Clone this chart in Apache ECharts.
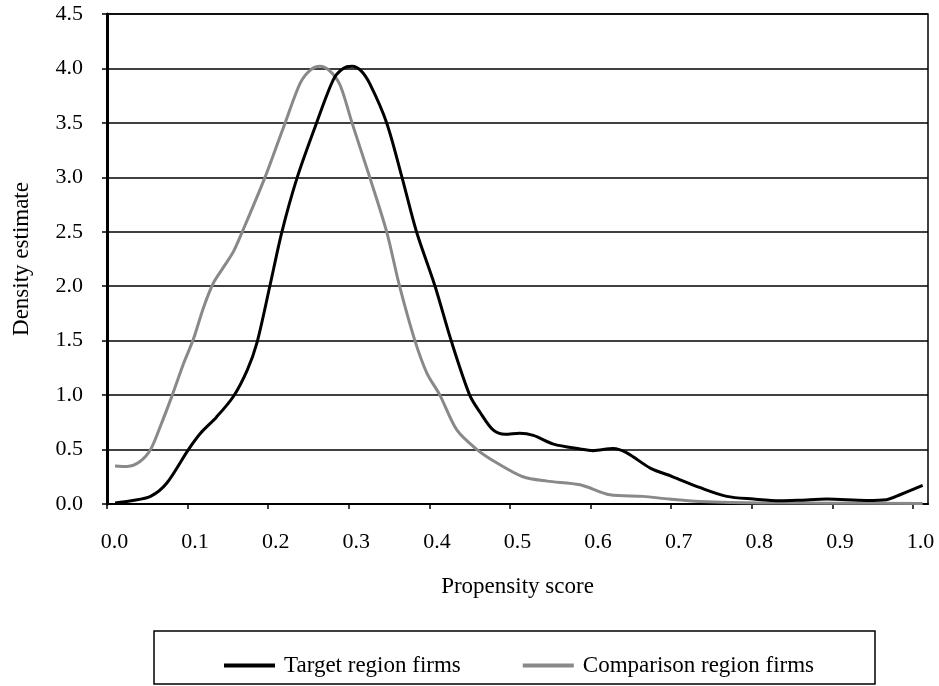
<!DOCTYPE html>
<html>
<head>
<meta charset="utf-8">
<script src="https://cdn.jsdelivr.net/npm/echarts@6/dist/echarts.min.js"></script>
<style>
  html, body { margin: 0; padding: 0; background: #fff; }
  #chart { width: 939px; height: 686px; }
</style>
</head>
<body>
<div id="chart"></div>
<script>
// propensity score (x) and density estimate (y)
var targetX = [0.010, 0.030, 0.054, 0.074, 0.101, 0.116, 0.136, 0.157, 0.174, 0.186, 0.202, 0.217, 0.236, 0.260, 0.281, 0.293,
    0.304, 0.315, 0.326, 0.347, 0.366, 0.384, 0.407, 0.427, 0.450, 0.463, 0.479, 0.494, 0.512, 0.529, 0.554, 0.587,
    0.603, 0.628, 0.645, 0.674, 0.702, 0.736, 0.769, 0.802, 0.835, 0.860, 0.893, 0.942, 0.967, 0.984, 1.012];
var targetY = [0.01, 0.03, 0.07, 0.19, 0.50, 0.65, 0.80, 0.99, 1.23, 1.48, 2.00, 2.50, 3.00, 3.50, 3.90, 4.00,
    4.02, 3.98, 3.86, 3.50, 3.00, 2.50, 2.00, 1.50, 1.00, 0.84, 0.68, 0.64, 0.65, 0.63, 0.55, 0.505,
    0.49, 0.51, 0.47, 0.33, 0.25, 0.15, 0.07, 0.046, 0.03, 0.035, 0.045, 0.033, 0.04, 0.085, 0.17];

var compX = [0.010, 0.025, 0.041, 0.054, 0.066, 0.081, 0.095, 0.107, 0.120, 0.132, 0.145, 0.157, 0.169, 0.196, 0.215, 0.221,
    0.240, 0.253, 0.264, 0.276, 0.289, 0.304, 0.326, 0.347, 0.363, 0.382, 0.397, 0.413, 0.434, 0.459, 0.484, 0.516,
    0.546, 0.587, 0.624, 0.665, 0.698, 0.736, 0.810, 0.900, 1.012];
var compY = [0.35, 0.345, 0.39, 0.50, 0.71, 1.00, 1.29, 1.51, 1.81, 2.03, 2.18, 2.32, 2.52, 3.00, 3.38, 3.50,
    3.87, 3.99, 4.02, 3.98, 3.85, 3.50, 3.00, 2.50, 2.00, 1.50, 1.20, 1.00, 0.68, 0.50, 0.376, 0.25,
    0.21, 0.177, 0.085, 0.07, 0.045, 0.024, 0.01, 0.008, 0.005];

var xTicks = [0, 0.1, 0.2, 0.3, 0.4, 0.5, 0.6, 0.7, 0.8, 0.9, 1.0];
var seriesNames = ['Target region firms', 'Comparison region firms'];

var font = '"Liberation Serif", "Times New Roman", serif';

function pairs(xs, ys) {
    var out = [];
    for (var i = 0; i < xs.length; i++) out.push([xs[i], ys[i]]);
    return out;
}

var chart = echarts.init(document.getElementById('chart'));
var option = {
    backgroundColor: '#fff',
    animation: false,
    textStyle: { fontFamily: font, color: '#000' },
    grid: {
        left: 107, right: 11, top: 14, bottom: 182,
        show: true, borderColor: '#000', borderWidth: 1.5
    },
    xAxis: {
        type: 'value', min: 0, max: 1.0186,
        name: 'Propensity score', nameLocation: 'middle', nameGap: 71,
        nameTextStyle: { fontFamily: font, fontSize: 23, color: '#000' },
        axisLine: { onZero: false, lineStyle: { color: '#000', width: 2 } },
        axisTick: { show: true, length: 5, inside: false, customValues: xTicks, lineStyle: { color: '#000', width: 1.5 } },
        axisLabel: { customValues: xTicks, margin: 27, fontFamily: font, fontSize: 22, color: '#000',
            padding: [0, 0, 0, 15],
            formatter: function (v) { return v.toFixed(1); } },
        splitLine: { show: false }
    },
    yAxis: {
        type: 'value', min: 0, max: 4.5, interval: 0.5,
        name: 'Density estimate', nameLocation: 'middle', nameGap: 74,
        nameTextStyle: { fontFamily: font, fontSize: 23, color: '#000' },
        axisLine: { show: true, lineStyle: { color: '#000', width: 3 } },
        axisTick: { show: true, length: 5, lineStyle: { color: '#000', width: 1.5 } },
        axisLabel: { margin: 24, fontFamily: font, fontSize: 22, color: '#000',
            formatter: function (v) { return v.toFixed(1); } },
        splitLine: { show: true, lineStyle: { color: '#000', width: 1.5 } }
    },
    legend: {
        left: 219, top: 649,
        icon: 'rect', itemWidth: 51, itemHeight: 4, itemGap: 62,
        textStyle: { fontFamily: font, fontSize: 23, color: '#000', padding: [0, 0, 0, 4] },
        data: seriesNames
    },
    graphic: [{
        type: 'rect',
        shape: { x: 154, y: 631, width: 721, height: 53 },
        style: { fill: 'none', stroke: '#000', lineWidth: 1.5 },
        silent: true
    }],
    series: [{
        name: seriesNames[0], type: 'line', smooth: 0.3, symbol: 'none',
        lineStyle: { color: '#000', width: 3 }, itemStyle: { color: '#000' },
        z: 3,
        data: pairs(targetX, targetY)
    }, {
        name: seriesNames[1], type: 'line', smooth: 0.3, symbol: 'none',
        lineStyle: { color: '#898989', width: 3 }, itemStyle: { color: '#898989' },
        z: 2,
        data: pairs(compX, compY)
    }]
};
chart.setOption(option);
</script>
</body>
</html>
